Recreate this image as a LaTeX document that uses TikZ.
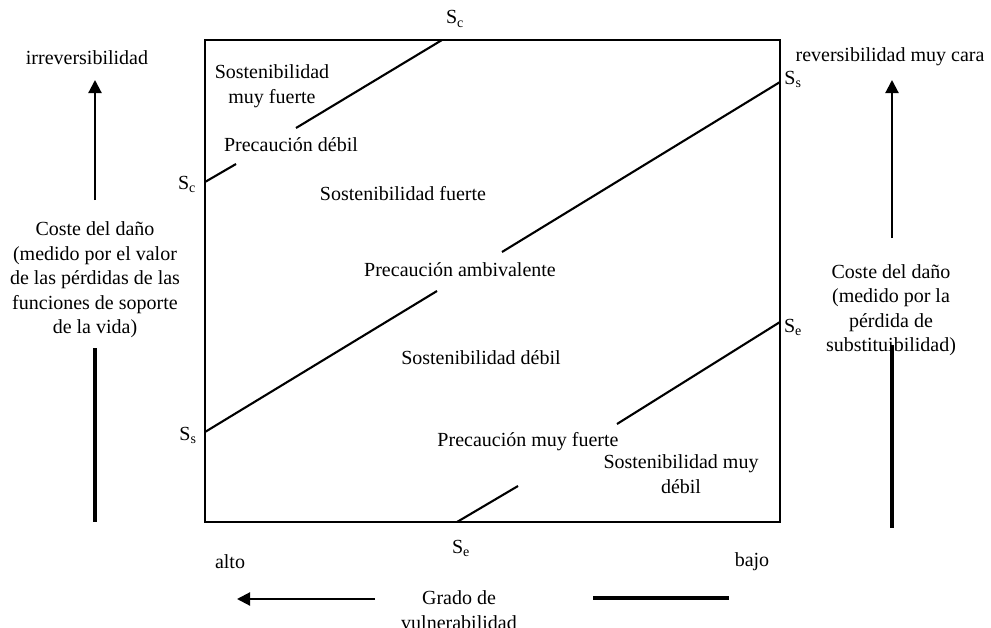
\documentclass[tikz,border=0pt]{standalone}
\usepackage{fontspec}
\setmainfont{Liberation Serif}
\usetikzlibrary{arrows.meta}
\tikzset{
  txt/.style={inner sep=0pt, align=center, font=\fontsize{20}{24.5}\selectfont},
  lbl/.style={inner sep=0pt, font=\fontsize{20}{24}\selectfont},
  frame/.style={line width=2.3pt},
  bound/.style={line width=2.1pt},
  thick/.style={line width=3.8pt},
  arr/.style={line width=2.1pt, -{Triangle[length=13pt,width=13pt]}}
}
\newcommand{\Ssub}[1]{S\textsubscript{#1}}
\begin{document}
\begin{tikzpicture}[x=1pt,y=-1pt]
\useasboundingbox (0,0) rectangle (991,627);
% box
\coordinate (tl) at (205,40);
\coordinate (br) at (780,522);
\draw[frame] (tl) rectangle (br);
% Sc line
\coordinate (c1) at (205,182);
\coordinate (c2) at (236,164);
\coordinate (c3) at (296,128);
\coordinate (c4) at (442,40);
\draw[bound] (c1) -- (c2);
\draw[bound] (c3) -- (c4);
% Ss line
\coordinate (s1) at (205,432);
\coordinate (s2) at (437,291);
\coordinate (s3) at (502,252);
\coordinate (s4) at (780,82);
\draw[bound] (s1) -- (s2);
\draw[bound] (s3) -- (s4);
% Se line
\coordinate (e1) at (457,522);
\coordinate (e2) at (518,486);
\coordinate (e3) at (617,424);
\coordinate (e4) at (780,322);
\draw[bound] (e1) -- (e2);
\draw[bound] (e3) -- (e4);
% endpoint labels
\node[lbl] (lc1) at (455,19) {\Ssub{c}};
\node[lbl] (lc2) at (187,184) {\Ssub{c}};
\node[lbl] (ls1) at (793,79) {\Ssub{s}};
\node[lbl] (ls2) at (188,435) {\Ssub{s}};
\node[lbl] (le1) at (793,327) {\Ssub{e}};
\node[lbl] (le2) at (461,548) {\Ssub{e}};
% region texts
\node[txt] (r1) at (272,86) {Sostenibilidad\\muy fuerte};
\node[txt] (r2) at (291,145) {Precaución débil};
\node[txt] (r3) at (403,194) {Sostenibilidad fuerte};
\node[txt] (r4) at (460,270) {Precaución ambivalente};
\node[txt] (r5) at (481,358) {Sostenibilidad débil};
\node[txt] (r6) at (528,442) {Precaución muy fuerte};
\node[txt] (r7) at (681,474) {Sostenibilidad muy\\débil};
% left axis
\node[txt] (irr) at (87,58) {irreversibilidad};
\node[txt] (lt) at (95,280) {Coste del daño\\(medido por el valor\\de las pérdidas de las\\funciones de soporte\\de la vida)};
\coordinate (la1) at (95,200);
\coordinate (la2) at (95,80);
\draw[arr] (la1) -- (la2);
\coordinate (lb1) at (95,348);
\coordinate (lb2) at (95,522);
\draw[thick] (lb1) -- (lb2);
% right axis
\node[txt] (rev) at (890,57) {reversibilidad muy cara};
\node[txt] (rt) at (891,310) {Coste del daño\\(medido por la\\pérdida de\\substituibilidad)};
\coordinate (ra1) at (892,238);
\coordinate (ra2) at (892,80);
\draw[arr] (ra1) -- (ra2);
\coordinate (rb1) at (892,345);
\coordinate (rb2) at (892,528);
\draw[thick] (rb1) -- (rb2);
% bottom axis
\node[txt] (alto) at (230,562) {alto};
\node[txt] (bajo) at (752,562) {bajo};
\node[txt] (gr) at (459,610) {Grado de\\vulnerabilidad};
\coordinate (ba1) at (375,599);
\coordinate (ba2) at (237,599);
\draw[arr] (ba1) -- (ba2);
\coordinate (bb1) at (593,598);
\coordinate (bb2) at (729,598);
\draw[thick] (bb1) -- (bb2);
\end{tikzpicture}
\end{document}
